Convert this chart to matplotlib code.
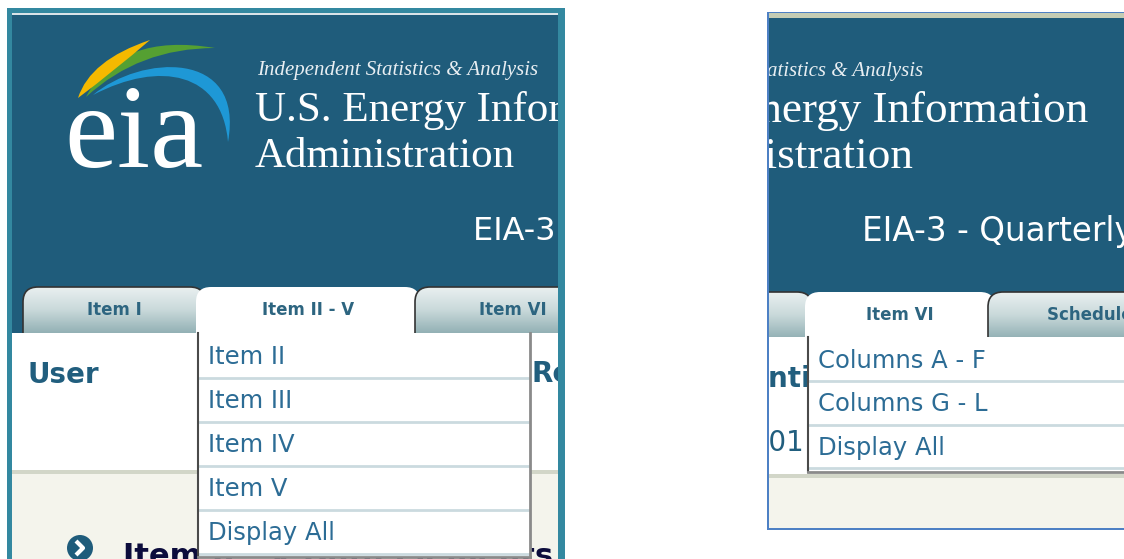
import numpy as np
import matplotlib.pyplot as plt
from matplotlib.patches import Rectangle, FancyBboxPatch, Circle, PathPatch
from matplotlib.path import Path
from matplotlib.colors import LinearSegmentedColormap

W, H, DPI = 1124, 559, 100

# texts shown in the two screenshots
tagline = "Independent Statistics & Analysis"
agency_lines = ["U.S. Energy Information", "Administration"]
form_title = "EIA-3 - Quarterly Coal Consumption"
left_tabs = ["Item I", "Item II - V", "Item VI"]
left_menu = ["Item II", "Item III", "Item IV", "Item V", "Display All"]
right_tabs = ["Item II - V", "Item VI", "Schedule A"]
right_menu = ["Columns A - F", "Columns G - L", "Display All"]

HEADER = "#1f5c7b"
TEAL = "#3388a0"
MENU_TXT = "#2c6c95"
TAB_TXT = "#2d6580"
LABEL_TXT = "#215e7e"
CREAM = "#f4f4ec"
SEP = "#cbdadf"
tab_cmap = LinearSegmentedColormap.from_list("tab", ["#e9f0f0", "#c9d9da", "#93b1b5"])

fig = plt.figure(figsize=(W / DPI, H / DPI), dpi=DPI)
bg = fig.add_axes([0, 0, 1, 1])
bg.set_xlim(0, W)
bg.set_ylim(H, 0)
bg.axis("off")


def panel(x0, y0, x1, y1):
    ax = fig.add_axes([x0 / W, 1 - y1 / H, (x1 - x0) / W, (y1 - y0) / H])
    ax.set_xlim(x0, x1)
    ax.set_ylim(y1, y0)
    ax.axis("off")
    return ax


def logo(ax, dx, dy, title_size):
    M, C3, C4, CL = Path.MOVETO, Path.CURVE3, Path.CURVE4, Path.CLOSEPOLY
    sh = lambda pts: [(x + dx, y + dy) for x, y in pts]
    # blue sweep
    blue = Path(sh([(93, 95), (140, 55), (245, 48), (228, 142),
                    (222, 72), (160, 60), (93, 95), (93, 95)]),
                [M, C4, C4, C4, C4, C4, C4, CL])
    green = Path(sh([(86, 97), (119, 32), (215, 48), (139, 48), (86, 97), (86, 97)]),
                 [M, C3, C3, C3, C3, CL])
    yellow = Path(sh([(78, 98), (90, 60), (150, 40), (114, 71), (78, 98), (78, 98)]),
                  [M, C3, C3, C3, C3, CL])
    for p, c in [(blue, "#1e98d6"), (green, "#55a032"), (yellow, "#f5b900")]:
        ax.add_patch(PathPatch(p, facecolor=c, edgecolor="none", zorder=2))
    ax.text(64 + dx, 167 + dy, "eia", color="white", fontsize=86, family="Liberation Serif",
            va="baseline", ha="left", zorder=3, clip_on=True)
    ax.text(257 + dx, 75 + dy, tagline, color="#e8eef2", fontsize=15, style="italic",
            family="Liberation Serif", va="baseline", clip_on=True, zorder=3)
    ax.text(255 + dx, 121 + dy, agency_lines[0], color="white", fontsize=title_size,
            family="Liberation Serif", va="baseline", clip_on=True, zorder=3)
    ax.text(255 + dx, 167 + dy, agency_lines[1], color="white", fontsize=title_size,
            family="Liberation Serif", va="baseline", clip_on=True, zorder=3)


def tab(ax, x0, x1, top, label, active, z):
    box = FancyBboxPatch((x0, top), x1 - x0, 70, boxstyle="round,pad=0,rounding_size=15",
                         facecolor="white" if active else "none",
                         edgecolor="none" if active else "#333333", lw=1.2, zorder=z)
    ax.add_patch(box)
    if not active:
        grad = np.linspace(0, 1, 64).reshape(-1, 1)
        im = ax.imshow(grad, cmap=tab_cmap, extent=(x0, x1, top + 46, top), origin="upper",
                       aspect="auto", zorder=z - 0.05, interpolation="bilinear")
        im.set_clip_path(box)
    ax.text((x0 + x1) / 2, top + 23, label, color=TAB_TXT, fontsize=12, fontweight="bold",
            ha="center", va="center", zorder=z + 0.01, clip_on=True)


def menu(ax, x0, x1, top, row_h, items, z=6):
    bottom = top + row_h * len(items) + 4
    ax.add_patch(Rectangle((x0, top), x1 - x0, bottom - top, facecolor="white",
                           edgecolor="none", zorder=z))
    ax.plot([x0, x0], [top, bottom], color="#4a4a4a", lw=1.5, zorder=z + 0.2)
    ax.plot([x1, x1], [top, bottom], color="#8a8a8a", lw=2, zorder=z + 0.2)
    ax.plot([x0, x1], [bottom, bottom], color="#8a8a8a", lw=2, zorder=z + 0.2)
    for i, item in enumerate(items):
        yc = top + row_h * (i + 0.5) + 2
        ax.text(x0 + 10, yc, item, color=MENU_TXT, fontsize=17.5, va="center",
                ha="left", zorder=z + 0.1, clip_on=True)
        ax.plot([x0 + 1, x1 - 1], [top + row_h * (i + 1) + 0.5] * 2, color=SEP, lw=2,
                zorder=z + 0.1)


# ---------------- left screenshot ----------------
bg.add_patch(Rectangle((7, 8), 558, 560, facecolor=TEAL, edgecolor="none"))
axl = panel(12, 13, 558, 559)
axl.add_patch(Rectangle((12, 13), 546, 320, facecolor=HEADER, edgecolor="none", zorder=1))
axl.plot([12, 558], [13.6, 13.6], color="white", lw=1.2, zorder=1.5)
logo(axl, 0, 0, 31)
axl.text(473, 240, form_title, color="white", fontsize=23, va="baseline", ha="left",
         zorder=3, clip_on=True)

tab(axl, 23, 205, 287, left_tabs[0], False, 2.0)
tab(axl, 196, 420, 287, left_tabs[1], True, 2.2)
tab(axl, 415, 610, 287, left_tabs[2], False, 2.4)

axl.add_patch(Rectangle((12, 333), 546, 137, facecolor="white", edgecolor="none", zorder=3))
axl.add_patch(Rectangle((12, 470), 546, 4, facecolor="#d2d6c8", edgecolor="none", zorder=3))
axl.add_patch(Rectangle((12, 474), 546, 90, facecolor=CREAM, edgecolor="none", zorder=3))

axl.text(28, 375, "User", color=LABEL_TXT, fontsize=20, fontweight="bold", va="center",
         zorder=4, clip_on=True)
axl.text(531, 374, "Respondent", color=LABEL_TXT, fontsize=20, fontweight="bold",
         va="center", zorder=4, clip_on=True)
axl.add_patch(Circle((80, 548), 13, facecolor=HEADER, edgecolor="none", zorder=4))
axl.plot([76, 83, 76], [541, 548, 555], color="white", lw=3, zorder=4.1,
         solid_capstyle="butt")
axl.text(123, 565, "Item II - V Data Elements", color="#0c0c3c", fontsize=22,
         fontweight="bold", va="baseline", zorder=4, clip_on=True)

menu(axl, 198, 530, 333, 44, left_menu)

# ---------------- right screenshot ----------------
bg.add_patch(Rectangle((767, 12), 400, 518, facecolor="#4d80c4", edgecolor="none"))
bg.add_patch(Rectangle((768.5, 13), 400, 4.5, facecolor="#c4ccb4", edgecolor="none"))
axr = panel(768.5, 17.5, 1124, 528)
axr.add_patch(Rectangle((760, 17), 400, 320, facecolor=HEADER, edgecolor="none", zorder=1))
logo(axr, 385, 1, 32.5)
axr.text(862, 241, form_title, color="white", fontsize=23.5, va="baseline", ha="left",
         zorder=3, clip_on=True)

tab(axr, 620, 812, 292, right_tabs[0], False, 2.0)
tab(axr, 805, 995, 292, right_tabs[1], True, 2.2)
tab(axr, 988, 1210, 292, right_tabs[2], False, 2.4)

axr.add_patch(Rectangle((760, 337), 400, 137, facecolor="white", edgecolor="none", zorder=3))
axr.add_patch(Rectangle((760, 474), 400, 4, facecolor="#d2d6c8", edgecolor="none", zorder=3))
axr.add_patch(Rectangle((760, 478), 400, 60, facecolor=CREAM, edgecolor="none", zorder=3))

axr.text(719, 379, "Identification", color=LABEL_TXT, fontsize=20, fontweight="bold",
         va="center", zorder=4, clip_on=True)
axr.text(733, 443, "2001", color=LABEL_TXT, fontsize=20, va="center", zorder=4,
         clip_on=True)

menu(axr, 808, 1140, 337, 43.5, right_menu)

fig.savefig("out.png", dpi=DPI)
